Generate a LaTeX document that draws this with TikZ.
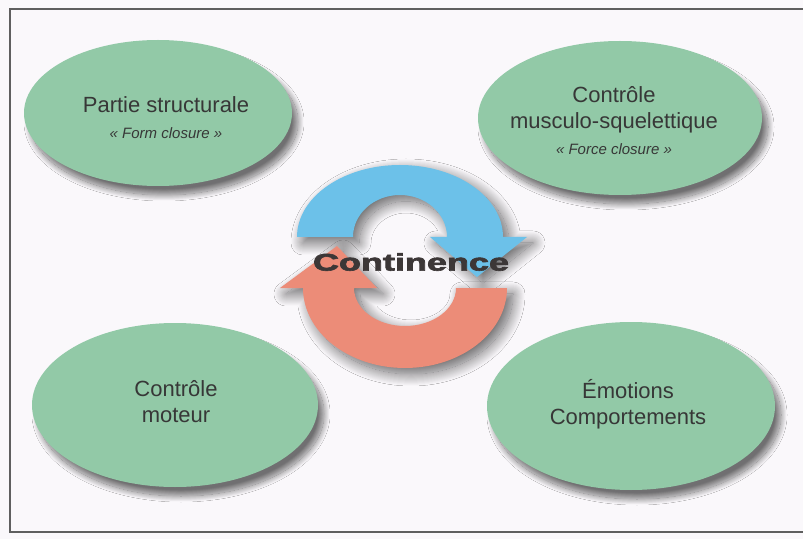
\documentclass[tikz,border=0pt]{standalone}
\usepackage{fontspec}
\setmainfont{Liberation Sans}
\newfontfamily\heavyfont[FakeBold=2.5]{Liberation Sans Bold}
\usetikzlibrary{shapes.geometric,shadows.blur}

\definecolor{paper}{RGB}{250,248,251}
\definecolor{framegray}{RGB}{95,95,95}
\definecolor{zonegreen}{RGB}{146,201,167}
\definecolor{cycleblue}{RGB}{108,193,233}
\definecolor{cyclered}{RGB}{236,140,120}
\definecolor{inkgray}{RGB}{55,55,55}
\definecolor{titleink}{RGB}{60,55,55}

\begin{document}
\begin{tikzpicture}[x=1pt,y=1pt,
  zoneshadow/.style={blur shadow={shadow xshift=6pt, shadow yshift=-9pt,
      shadow blur radius=6pt, shadow blur steps=24, shadow opacity=55}},
  arrowshadow/.style={blur shadow={shadow xshift=6pt, shadow yshift=-6pt,
      shadow blur radius=12pt, shadow blur steps=24, shadow opacity=60}},
  zone/.style={ellipse, fill=zonegreen, inner sep=0pt, zoneshadow},
  zonetext/.style={align=center, text=inkgray, inner sep=0pt,
      font=\fontsize{22}{26}\selectfont},
]
  % page and frame
  \useasboundingbox (0,0) rectangle (803,539);
  \fill[paper] (0,0) rectangle (803,539);
  \draw[framegray, line width=1.6pt] (10,7) rectangle (830,530);

  % the four zones
  \node[zone, minimum width=268pt, minimum height=146pt] (structure) at (158,426) {};
  \node[zone, minimum width=284pt, minimum height=154pt] (muscle) at (620,421) {};
  \node[zone, minimum width=286pt, minimum height=164pt] (motor) at (175,134) {};
  \node[zone, minimum width=288pt, minimum height=168pt] (emotion) at (631,133) {};

  \node[zonetext] (structuretext) at (166,421.5)
    {Partie structurale\\ {\fontsize{15}{26}\selectfont\itshape « Form closure »}};
  \node[zonetext] (muscletext) at (614,418)
    {Contrôle\\ musculo-squelettique\\ {\fontsize{15}{26}\selectfont\itshape « Force closure »}};
  \node[zonetext] (motortext) at (176,137) {Contrôle\\ moteur};
  \node[zonetext] (emotiontext) at (628,135) {Émotions\\ Comportements};

  % circular arrows
  \fill[cycleblue, arrowshadow]
    (297,302) arc[start angle=180, end angle=0, x radius=103, y radius=72]
    -- (527,302) -- (477,262) -- (430,302) -- (447,302)
    arc[start angle=0, end angle=180, x radius=47, y radius=42] -- cycle;
  \fill[cyclered, arrowshadow]
    (507,251) arc[start angle=0, end angle=-180, x radius=102, y radius=80]
    -- (280,251) -- (337,293) -- (377,251) -- (354,251)
    arc[start angle=180, end angle=360, x radius=51, y radius=38] -- cycle;

  \node[text=titleink, inner sep=0pt] (continence) at (411,277)
    {\scalebox{1.5}[1]{\heavyfont\fontsize{24}{28}\selectfont Continence}};
\end{tikzpicture}
\end{document}
